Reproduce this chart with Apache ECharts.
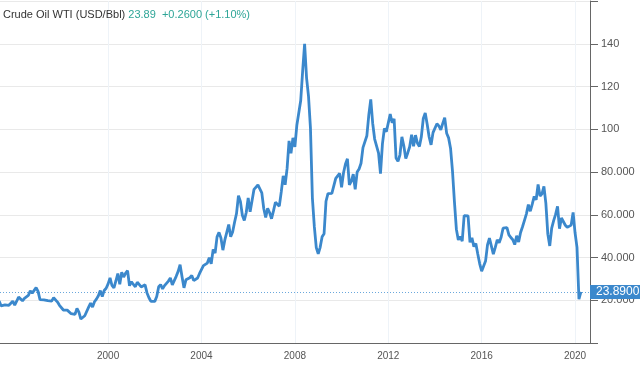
<!DOCTYPE html>
<html><head><meta charset="utf-8">
<script src="https://cdn.jsdelivr.net/npm/echarts@6/dist/echarts.min.js"></script>
<style>html,body{margin:0;padding:0;background:#fff}#c{width:640px;height:368px}</style>
</head><body><div id="c"></div>
<script>
const titleName = 'Crude Oil WTI (USD/Bbl)';
const lastPriceText = '23.89';
const changeText = '+0.2600 (+1.10%)';
const lastPrice = 23.89;
const firstYear = 1995;
const firstMonth = 5;
// monthly closes, May 1995 .. Apr 2020
const closes1995 = [19.6, 17.40, 17.56, 17.84, 17.54, 17.64, 18.18, 19.55];
const closes1996 = [17.74, 19.54, 21.47, 21.20, 19.76, 20.92, 20.42, 22.25, 24.38, 23.35, 23.75, 25.92];
const closes1997 = [24.15, 20.30, 20.41, 20.21, 20.88, 19.80, 20.14, 19.61, 21.18, 21.08, 19.15, 17.64];
const closes1998 = [17.21, 15.44, 15.61, 15.39, 15.20, 13.72, 14.17, 13.39, 16.14, 14.42, 11.22, 12.05];
const closes1999 = [12.75, 12.27, 16.76, 18.66, 16.84, 19.29, 20.53, 22.10, 24.51, 21.75, 24.59, 25.60];
const closes2000 = [27.64, 30.43, 26.90, 25.74, 29.01, 32.50, 27.43, 33.12, 30.84, 32.70, 33.82, 26.80];
const closes2001 = [28.66, 27.39, 26.29, 28.46, 28.37, 26.25, 26.35, 27.20, 23.43, 21.18, 19.44, 19.84];
const closes2002 = [19.48, 21.74, 26.31, 27.29, 25.31, 26.86, 27.02, 28.98, 30.45, 27.22, 26.89, 31.20];
const closes2003 = [33.51, 36.60, 31.04, 25.80, 29.56, 30.19, 30.54, 31.57, 29.20, 29.11, 30.41, 32.52];
const closes2004 = [33.05, 36.16, 35.76, 37.38, 39.88, 37.05, 43.80, 42.12, 49.64, 51.76, 49.13, 43.45];
const closes2005 = [48.20, 51.75, 55.40, 49.72, 51.97, 56.50, 60.57, 68.94, 66.24, 59.76, 57.32, 61.04];
const closes2006 = [67.92, 61.41, 66.63, 71.88, 71.29, 73.93, 74.40, 70.26, 62.91, 58.73, 62.97, 61.05];
const closes2007 = [58.14, 61.79, 65.87, 65.71, 64.01, 70.68, 78.21, 74.04, 81.66, 94.53, 88.71, 95.98];
const closes2008 = [91.75, 101.84, 101.58, 113.46, 127.35, 140.00, 124.08, 115.46, 100.64, 67.81, 54.43, 44.60];
const closes2009 = [41.68, 44.76, 49.66, 51.12, 66.31, 69.89, 69.45, 69.96, 70.61, 77.00, 77.28, 79.36];
const closes2010 = [72.89, 79.66, 83.76, 86.15, 73.97, 75.63, 78.95, 71.92, 79.97, 81.43, 84.11, 91.38];
const closes2011 = [92.19, 96.97, 106.72, 113.93, 102.70, 95.42, 95.70, 88.81, 79.20, 93.19, 100.36, 98.83];
const closes2012 = [98.48, 107.07, 103.02, 104.87, 86.53, 84.96, 88.06, 96.47, 92.19, 86.24, 88.91, 91.82];
const closes2013 = [97.49, 92.05, 97.23, 93.46, 91.97, 96.56, 105.03, 107.65, 102.33, 96.38, 92.72, 98.42];
const closes2014 = [97.49, 102.59, 101.58, 99.74, 102.71, 105.37, 98.17, 95.96, 91.16, 80.54, 66.15, 53.27];
const closes2015 = [48.24, 49.76, 47.60, 59.63, 60.30, 59.47, 47.12, 49.20, 45.09, 46.59, 41.65, 37.04];
const closes2016 = [33.62, 33.75, 38.34, 45.92, 49.10, 48.33, 41.60, 44.70, 48.24, 46.86, 49.44, 53.72];
const closes2017 = [52.81, 54.01, 50.60, 49.33, 48.32, 46.04, 50.17, 47.23, 51.67, 54.38, 57.40, 60.42];
const closes2018 = [64.73, 61.64, 64.94, 68.57, 67.04, 74.15, 68.76, 69.80, 73.25, 65.31, 50.93, 45.41];
const closes2019 = [53.79, 57.22, 60.14, 63.91, 53.50, 58.47, 58.58, 55.10, 54.07, 54.18, 55.17, 61.06];
const closes2020 = [51.56, 44.76, 20.48, 23.89];
const xTickYears = [2000, 2004, 2008, 2012, 2016, 2020];

const closes = [].concat(closes1995, closes1996, closes1997, closes1998, closes1999, closes2000,
  closes2001, closes2002, closes2003, closes2004, closes2005, closes2006, closes2007, closes2008,
  closes2009, closes2010, closes2011, closes2012, closes2013, closes2014, closes2015, closes2016,
  closes2017, closes2018, closes2019, closes2020);
const seriesData = closes.map((v, i) => {
  const m = firstMonth - 1 + i;
  const y = firstYear + Math.floor(m / 12);
  return [y + (m % 12) / 12, v];
});

const font = 'Liberation Sans, Arial, sans-serif';
const chart = echarts.init(document.getElementById('c'), null, {renderer: 'canvas'});
chart.setOption({
  animation: false,
  backgroundColor: '#fff',
  title: {
    left: 3, top: 9, padding: 0,
    text: '{a|' + titleName + '} {b|' + lastPriceText + '}  {b|' + changeText + '}',
    textStyle: {
      fontFamily: font, fontSize: 11, fontWeight: 'normal',
      rich: {
        a: {color: '#333', fontSize: 11, fontFamily: font},
        b: {color: '#2ea597', fontSize: 11, fontFamily: font}
      }
    }
  },
  grid: {left: 0, right: 50, top: 1, bottom: 25, containLabel: false},
  xAxis: {
    type: 'value', min: 1995.37, max: 2020.64,
    axisLine: {show: true, lineStyle: {color: '#666', width: 1}},
    axisTick: {show: false, customValues: xTickYears},
    axisLabel: {customValues: xTickYears, color: '#555', fontSize: 10, fontFamily: font, margin: 8,
      formatter: v => String(Math.round(v))},
    splitLine: {show: true, lineStyle: {color: '#eef3f8', width: 1}}
  },
  yAxis: {
    type: 'value', position: 'right', min: 0, max: 160, interval: 20,
    axisLine: {show: true, lineStyle: {color: '#666', width: 1}},
    axisTick: {show: true, length: 8, lineStyle: {color: '#666'}},
    axisLabel: {color: '#555', fontSize: 11, fontFamily: font, margin: 11,
      formatter: v => (v === 0 || v === 160) ? '' : (v >= 100 ? String(v) : v.toFixed(3))},
    splitLine: {show: true, lineStyle: {color: '#e9e9e9', width: 1}}
  },
  series: [{
    type: 'line',
    data: seriesData,
    showSymbol: false,
    lineStyle: {color: '#3b88cc', width: 2.8},
    itemStyle: {color: '#3b88cc'},
    z: 5,
    markLine: {
      silent: true, symbol: 'none', animation: false,
      lineStyle: {type: [1, 2], color: '#6aa8dc', width: 1},
      label: {show: true, position: 'end', distance: 0, formatter: lastPrice.toFixed(4),
        backgroundColor: '#3b88cc', color: '#fff', fontSize: 12, fontFamily: font,
        padding: [1, 8, 1, 6]},
      data: [{yAxis: lastPrice}]
    }
  }]
});
</script></body></html>
